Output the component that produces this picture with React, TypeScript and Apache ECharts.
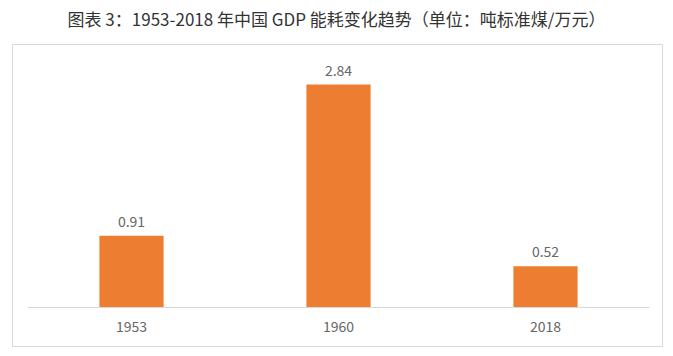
import React, { useEffect, useRef } from "react";
import * as echarts from "echarts";

const categories = ["1953", "1960", "2018"];
const values = [0.91, 2.84, 0.52];
const titleText = "图表 3：1953-2018 年中国 GDP 能耗变化趋势（单位：吨标准煤/万元）";

export default function App() {
  const ref = useRef<HTMLDivElement>(null);
  useEffect(() => {
    if (!ref.current) return;
    const chart = echarts.init(ref.current, null, { renderer: "svg" });
    chart.setOption({
      animation: false,
      backgroundColor: "#ffffff",
      title: {
        text: titleText,
        left: "center",
        top: 5,
        textStyle: { fontFamily: "Noto Sans CJK SC", fontSize: 17, fontWeight: "normal", color: "#333333" },
      },
      graphic: [
        {
          type: "rect",
          shape: { x: 12.5, y: 44.5, width: 650, height: 302 },
          style: { fill: "none", stroke: "#d9d9d9", lineWidth: 1 },
          silent: true,
        },
      ],
      grid: { left: 28, right: 24, top: 72, bottom: 49 },
      xAxis: {
        type: "category",
        data: categories,
        axisTick: { show: false },
        axisLine: { lineStyle: { color: "#d9d9d9", width: 1 } },
        axisLabel: { color: "#666666", fontSize: 14, fontFamily: "Noto Sans CJK SC", margin: 12 },
      },
      yAxis: {
        type: "value",
        min: 0,
        max: 3,
        show: false,
        splitLine: { show: false },
      },
      series: [
        {
          type: "bar",
          data: values,
          barWidth: "31%",
          itemStyle: { color: "#ED7D31" },
          label: {
            show: true,
            position: "top",
            distance: 8,
            color: "#666666",
            fontSize: 14,
            fontFamily: "Noto Sans CJK SC",
            formatter: (p: any) => p.value.toFixed(2),
          },
        },
      ],
    });
    return () => chart.dispose();
  }, []);
  return <div ref={ref} style={{ width: 673, height: 356, position: "absolute", left: 0, top: 0 }} />;
}
